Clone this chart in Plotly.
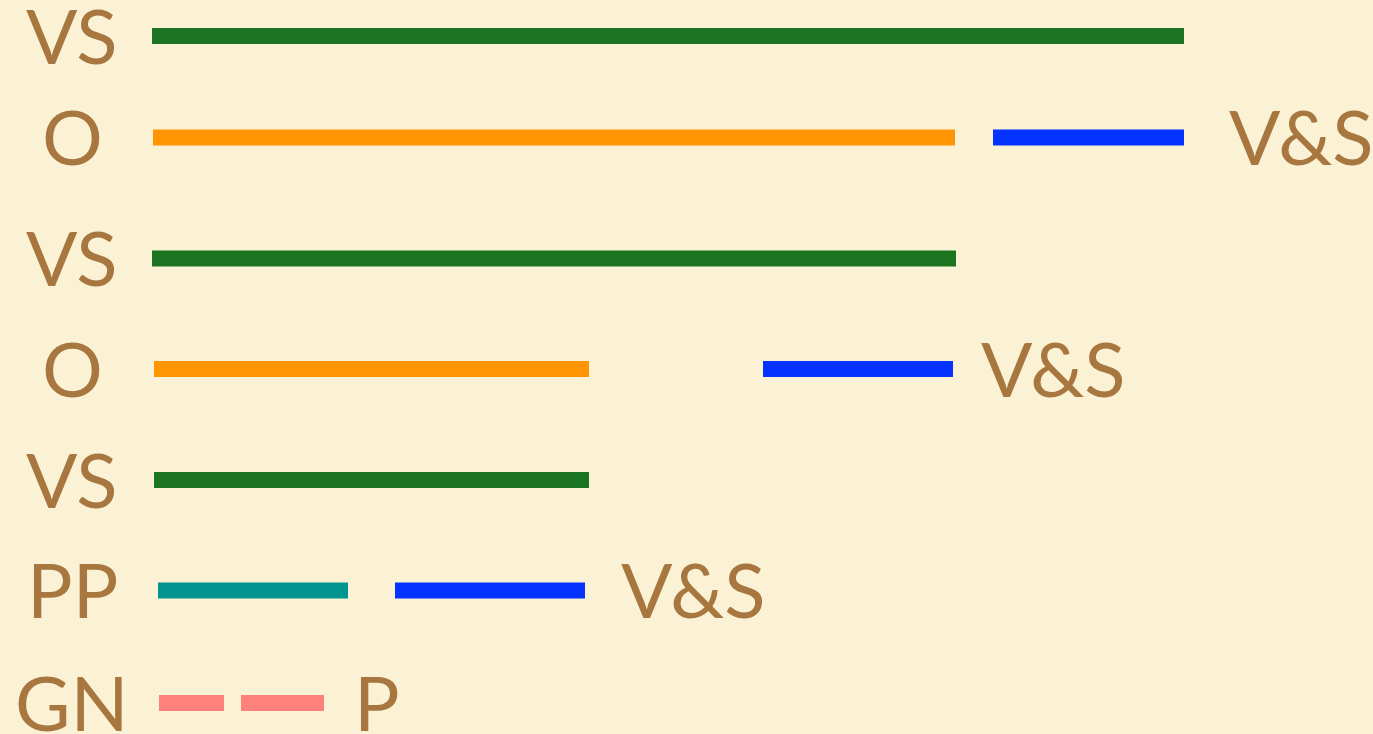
import plotly.graph_objects as go

# ---- data ----
row_labels = ["VS", "O", "VS", "O", "VS", "PP", "GN"]
right_labels = ["", "V&S", "", "V&S", "", "V&S", "P"]

# segments: (row index, start, end, kind)
seg_rows = [0, 1, 1, 2, 3, 3, 4, 5, 5, 6, 6]
seg_start = [152, 153, 993, 152, 154, 763, 154, 158, 395, 159, 241]
seg_end = [1184, 955, 1184, 956, 589, 953, 589, 348, 585, 224, 324]
seg_kind = ["VS", "O", "V&S", "VS", "O", "V&S", "VS", "PP", "V&S", "GN", "GN"]

# ---- layout / style ----
row_y = [36, 137.5, 258.5, 369, 480, 590.5, 703]
kind_color = {
    "VS": "#1A7420",
    "O": "#FF9500",
    "V&S": "#0433FF",
    "PP": "#009491",
    "GN": "#FF817B",
}
right_gap = [0, 46, 0, 29, 0, 37, 31]
text_color = "#A8773F"
bg = "#FBF2D6"
font_family = "Lato"
font_size = 76

fig = go.Figure()
for r, s, e, k in zip(seg_rows, seg_start, seg_end, seg_kind):
    fig.add_trace(go.Scatter(
        x=[s, e], y=[row_y[r], row_y[r]], mode="lines",
        line=dict(color=kind_color[k], width=16),
        hoverinfo="skip", showlegend=False,
    ))

annotations = []
for i, lab in enumerate(row_labels):
    annotations.append(dict(
        x=72, y=row_y[i], text=lab, showarrow=False, xanchor="center",
        yanchor="middle", xref="x", yref="y", yshift=2,
        font=dict(family=font_family, size=font_size, color=text_color),
    ))
for i, lab in enumerate(right_labels):
    if not lab:
        continue
    last_end = max(e for r, e in zip(seg_rows, seg_end) if r == i)
    annotations.append(dict(
        x=last_end, y=row_y[i], text=lab, showarrow=False, xanchor="left",
        yanchor="middle", xref="x", yref="y", xshift=right_gap[i] - 3, yshift=2,
        font=dict(family=font_family, size=font_size, color=text_color),
    ))

fig.update_layout(
    width=1373, height=734,
    margin=dict(l=0, r=0, t=0, b=0),
    paper_bgcolor=bg, plot_bgcolor=bg,
    xaxis=dict(range=[0, 1373], visible=False, fixedrange=True),
    yaxis=dict(range=[734, 0], visible=False, fixedrange=True),
    annotations=annotations,
)
fig.write_html(
    "out.html",
    config={"displayModeBar": False},
    post_script="document.body.style.margin='0';document.body.style.overflow='hidden';",
)
